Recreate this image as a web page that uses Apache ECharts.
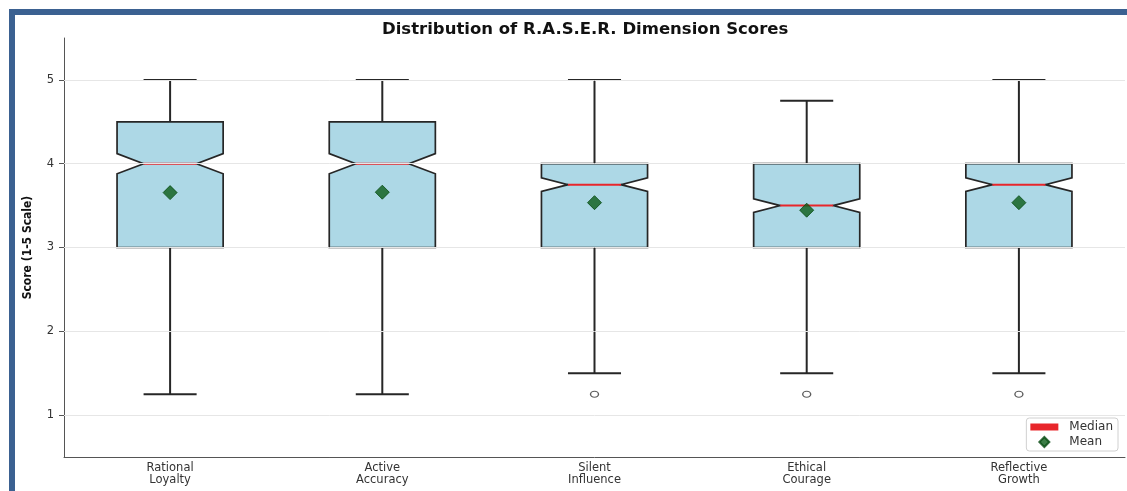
<!DOCTYPE html>
<html>
<head>
<meta charset="utf-8">
<script src="https://cdn.jsdelivr.net/npm/echarts@6/dist/echarts.min.js"></script>
<style>
  html, body { margin: 0; padding: 0; background: #ffffff; }
  #wrap { position: relative; width: 1127px; height: 491px; overflow: hidden; background: #fff; }
  #frame { position: absolute; left: 9px; top: 9px; right: -10px; bottom: -10px;
           border-top: 6px solid #3b6191; border-left: 6px solid #3b6191; pointer-events: none; z-index: 5; }
  #chart { position: absolute; left: 0; top: 0; width: 1127px; height: 491px; }
</style>
</head>
<body>
<div id="wrap">
  <div id="chart"></div>
  <div id="frame"></div>
</div>
<script>
// R.A.S.E.R. dimension score summaries (1-5 scale)
const categories = ['Rational\nLoyalty', 'Active\nAccuracy', 'Silent\nInfluence', 'Ethical\nCourage', 'Reflective\nGrowth'];
const whiskerLow  = [1.25, 1.25, 1.5, 1.5, 1.5];
const q1          = [3.0, 3.0, 3.0, 3.0, 3.0];
const median      = [4.0, 4.0, 3.75, 3.5, 3.75];
const q3          = [4.5, 4.5, 4.0, 4.0, 4.0];
const whiskerHigh = [5.0, 5.0, 5.0, 4.75, 5.0];
const notchLow    = [3.88, 3.88, 3.67, 3.42, 3.67];
const notchHigh   = [4.12, 4.12, 3.83, 3.58, 3.83];
const means       = [3.655, 3.66, 3.535, 3.445, 3.535];
const outliers    = [[2, 1.25], [3, 1.25], [4, 1.25]];
const yTicks      = [1, 2, 3, 4, 5];

const boxData = categories.map((c, i) => [i, whiskerLow[i], q1[i], notchLow[i], median[i], notchHigh[i], q3[i], whiskerHigh[i]]);
const medianData = categories.map((c, i) => [i, median[i]]);
const meanData = categories.map((c, i) => [i, means[i]]);

const edge = '#262626';
const font = 'DejaVu Sans, Verdana, sans-serif';

function renderBox(params, api) {
  const i = api.value(0);
  const band = api.size([1, 0])[0];
  const hw = band * 0.25;      // half box width (box = 0.5 of band)
  const cap = band * 0.125;    // half cap width
  const x = api.coord([i, 0])[0];
  const y = v => api.coord([i, v])[1];
  const yLow = y(api.value(1)), yQ1 = y(api.value(2)), yNL = y(api.value(3));
  const yMed = y(api.value(4)), yNH = y(api.value(5)), yQ3 = y(api.value(6)), yHigh = y(api.value(7));
  const L = x - hw, R = x + hw, cL = x - hw / 2, cR = x + hw / 2;
  const stroke = { stroke: edge, lineWidth: 2, fill: null };
  return {
    type: 'group',
    children: [
      { type: 'line', shape: { x1: x, y1: yQ1, x2: x, y2: yLow }, style: stroke },
      { type: 'line', shape: { x1: x, y1: yQ3, x2: x, y2: yHigh }, style: stroke },
      { type: 'line', shape: { x1: x - cap, y1: yLow, x2: x + cap, y2: yLow }, style: stroke },
      { type: 'line', shape: { x1: x - cap, y1: yHigh, x2: x + cap, y2: yHigh }, style: stroke },
      {
        type: 'polygon',
        shape: { points: [[L, yQ1], [R, yQ1], [R, yNL], [cR, yMed], [R, yNH], [R, yQ3], [L, yQ3], [L, yNH], [cL, yMed], [L, yNL]] },
        style: { fill: '#add8e6', stroke: edge, lineWidth: 1.7 }
      }
    ]
  };
}

function renderMedian(params, api) {
  const i = api.value(0);
  const band = api.size([1, 0])[0];
  const hw = band * 0.25;
  const p = api.coord([i, api.value(1)]);
  return {
    type: 'line',
    shape: { x1: p[0] - hw / 2, y1: p[1], x2: p[0] + hw / 2, y2: p[1] },
    style: { stroke: '#e8262b', lineWidth: 2 }
  };
}

const chart = echarts.init(document.getElementById('chart'), null, { renderer: 'canvas' });
chart.setOption({
  animation: false,
  backgroundColor: '#ffffff',
  title: {
    text: 'Distribution of R.A.S.E.R. Dimension Scores',
    left: 377, top: 16,
    textStyle: { fontFamily: font, fontSize: 16.5, fontWeight: 'bold', color: '#111' }
  },
  grid: { left: 64, right: 2, top: 38, bottom: 34 },
  legend: {
    right: 9, bottom: 40,
    orient: 'vertical',
    itemWidth: 28, itemHeight: 10, itemGap: 3,
    padding: [3, 5, 3, 4],
    backgroundColor: 'rgba(255,255,255,0.85)',
    borderColor: '#d0d0d0', borderWidth: 1, borderRadius: 3,
    textStyle: { fontFamily: font, fontSize: 12, color: '#333', padding: [0, 0, 0, 6] },
    data: [
      { name: 'Median', icon: 'path://M0,0h28v7h-28z' },
      { name: 'Mean', icon: 'path://M5,0L10,5L5,10L0,5Z' }
    ]
  },
  xAxis: {
    type: 'category',
    data: categories,
    boundaryGap: true,
    axisLine: { lineStyle: { color: '#555', width: 1 } },
    axisTick: { alignWithLabel: true, length: 3, lineStyle: { color: '#555' } },
    axisLabel: { fontFamily: font, fontSize: 11.5, color: '#333', lineHeight: 12, margin: 5, interval: 0 },
    splitLine: { show: false }
  },
  yAxis: {
    type: 'value',
    min: 0.5, max: 5.5,
    name: 'Score (1-5 Scale)',
    nameLocation: 'middle',
    nameGap: 30,
    nameTextStyle: { fontFamily: 'Liberation Sans Narrow, DejaVu Sans Condensed, Roboto, sans-serif', fontSize: 12, fontWeight: 'bold', color: '#111' },
    axisLine: { show: true, lineStyle: { color: '#555', width: 1 } },
    axisTick: { show: true, length: 5, customValues: yTicks, lineStyle: { color: '#555' } },
    axisLabel: { fontFamily: font, fontSize: 11.5, color: '#333', margin: 10, customValues: yTicks },
    splitLine: { show: false }
  },
  series: [
    {
      name: 'Outliers',
      type: 'scatter',
      z: 1,
      data: outliers,
      symbol: 'circle',
      symbolSize: [8, 6],
      itemStyle: { color: '#fff', borderColor: '#333', borderWidth: 1.2 },
      silent: true,
      markLine: {
        silent: true,
        symbol: 'none',
        label: { show: false },
        lineStyle: { color: '#e6e6e6', width: 1, type: 'solid' },
        data: yTicks.map(v => ({ yAxis: v }))
      }
    },
    {
      name: 'Boxes',
      type: 'custom',
      z: 2,
      renderItem: renderBox,
      encode: { x: 0, y: [1, 2, 3, 4, 5, 6, 7] },
      data: boxData
    },
    {
      name: 'Median',
      type: 'custom',
      z: 3,
      itemStyle: { color: '#e8262b' },
      renderItem: renderMedian,
      encode: { x: 0, y: 1 },
      data: medianData
    },
    {
      name: 'Mean',
      type: 'scatter',
      z: 4,
      symbol: 'diamond',
      symbolSize: [14, 14],
      itemStyle: { color: '#0a5c18', borderColor: '#064a12', borderWidth: 1 },
      data: meanData
    }
  ]
});
</script>
</body>
</html>
